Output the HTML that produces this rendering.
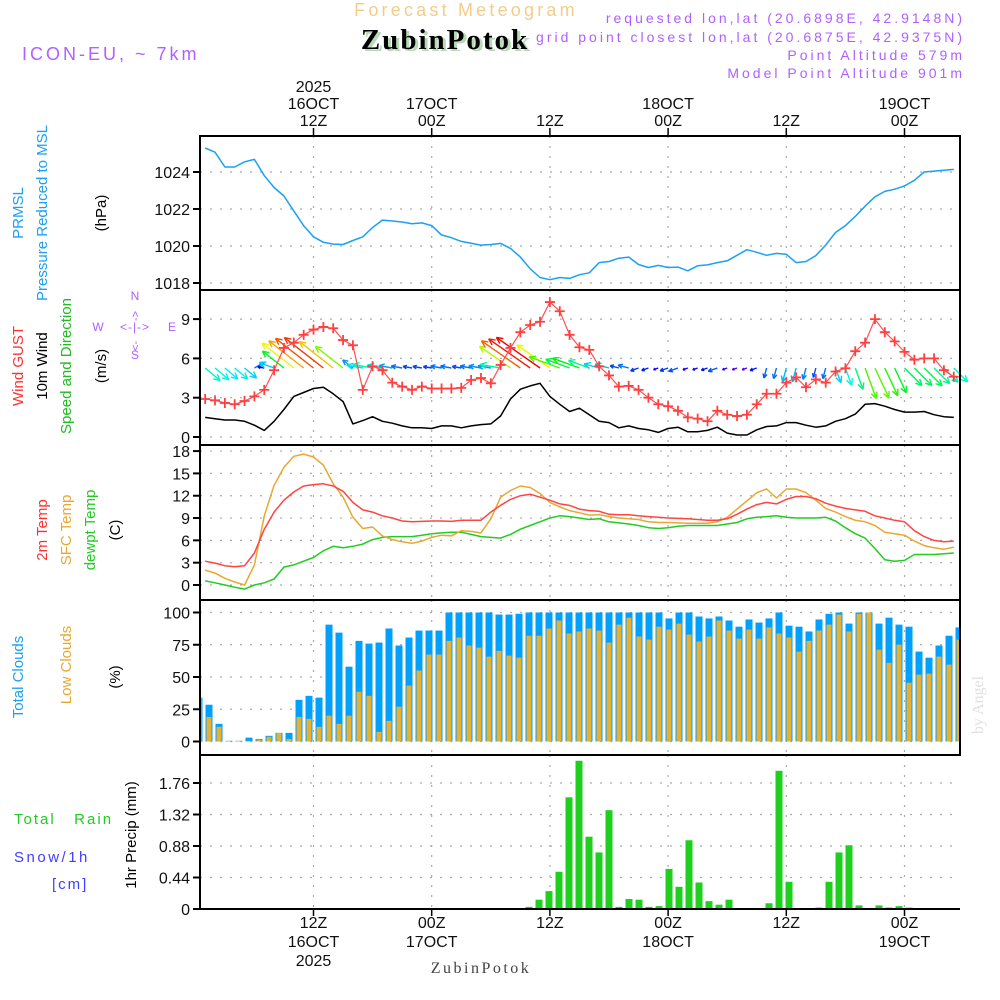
<!DOCTYPE html>
<html>
<head>
<meta charset="utf-8">
<style>
html,body{margin:0;padding:0;background:#fff;}
svg{display:block;font-family:"Liberation Sans",sans-serif;}
</style>
</head>
<body>
<svg id="chart" width="1000" height="1000" viewBox="0 0 1000 1000" xmlns="http://www.w3.org/2000/svg">
  <rect x="0" y="0" width="1000" height="1000" fill="#fff"/>
  <!-- header -->
  <text x="466" y="16" text-anchor="middle" font-size="18" fill="#f3cd8a" letter-spacing="3.2">Forecast Meteogram</text>
  <text x="448" y="51" text-anchor="middle" font-family="Liberation Serif, serif" font-weight="bold" font-size="29" fill="#b8d8b8" letter-spacing="2">ZubinPotok</text>
  <text x="445" y="49" text-anchor="middle" font-family="Liberation Serif, serif" font-weight="bold" font-size="29" fill="#000" letter-spacing="2">ZubinPotok</text>
  <text x="22" y="60" font-size="18" fill="#b060ff" letter-spacing="3">ICON-EU, ~ 7km</text>
  <g font-size="14" fill="#b060ff" text-anchor="end" letter-spacing="3">
    <text x="965" y="23">requested lon,lat (20.6898E, 42.9148N)</text>
    <text x="965" y="42">grid point closest lon,lat (20.6875E, 42.9375N)</text>
    <text x="965" y="60">Point Altitude 579m</text>
    <text x="965" y="78">Model Point Altitude 901m</text>
  </g>
  <g id="grid"></g>
  <g id="marks"></g>
  <g id="axes"></g>
  <!-- left labels -->
  <g font-size="15">
    <text transform="translate(23,213) rotate(-90)" text-anchor="middle" fill="#1ca0f0">PRMSL</text>
    <text transform="translate(47,213) rotate(-90)" text-anchor="middle" fill="#1ca0f0">Pressure Reduced to MSL</text>
    <text transform="translate(106,213) rotate(-90)" text-anchor="middle" fill="#000">(hPa)</text>
    <text transform="translate(23,366) rotate(-90)" text-anchor="middle" fill="#ff3030">Wind GUST</text>
    <text transform="translate(47,366) rotate(-90)" text-anchor="middle" fill="#000">10m Wind</text>
    <text transform="translate(71,366) rotate(-90)" text-anchor="middle" fill="#22bb22">Speed and Direction</text>
    <text transform="translate(106,366) rotate(-90)" text-anchor="middle" fill="#000">(m/s)</text>
    <text transform="translate(47,530) rotate(-90)" text-anchor="middle" fill="#ff3030">2m Temp</text>
    <text transform="translate(71,530) rotate(-90)" text-anchor="middle" fill="#e8a830">SFC Temp</text>
    <text transform="translate(95,530) rotate(-90)" text-anchor="middle" fill="#22cc22">dewpt Temp</text>
    <text transform="translate(120,530) rotate(-90)" text-anchor="middle" fill="#000">(C)</text>
    <text transform="translate(23,677) rotate(-90)" text-anchor="middle" fill="#1ca0f0">Total Clouds</text>
    <text transform="translate(71,665) rotate(-90)" text-anchor="middle" fill="#e8a830">Low Clouds</text>
    <text transform="translate(120,677) rotate(-90)" text-anchor="middle" fill="#000">(%)</text>
    <text transform="translate(136,835) rotate(-90)" text-anchor="middle" fill="#000">1hr Precip (mm)</text>
    <text x="14" y="824" fill="#22cc22" letter-spacing="2" xml:space="preserve">Total   Rain</text>
    <text x="14" y="862" fill="#4040ff" letter-spacing="2.5">Snow/1h</text>
    <text x="52" y="889" fill="#4040ff" letter-spacing="2">[cm]</text>
  </g>
  <!-- compass -->
  <g fill="#b060ff" stroke="none" font-size="12" text-anchor="middle">
    <text x="135" y="300">N</text>
    <text x="135" y="359">S</text>
    <text x="98" y="331">W</text>
    <text x="172" y="331">E</text>
    <text x="135" y="331" font-size="12" letter-spacing="1">&lt;-|-&gt;</text>
    <text transform="translate(139,316) rotate(-90)" font-size="11">-&gt;</text>
    <text transform="translate(139,346) rotate(-90)" font-size="11">&lt;-</text>
  </g>
  <text x="481" y="973" text-anchor="middle" font-family="Liberation Serif, serif" font-size="16" fill="#444" letter-spacing="2.5">ZubinPotok</text>
  <text transform="translate(983,705) rotate(-90)" text-anchor="middle" font-family="Liberation Serif, serif" font-size="16" fill="#e0e0e0">by Angel</text>
</svg>
<script>
// ---- data (hourly, t = 1..77 hours after 00Z 16 OCT 2025) ----
const pressure = [1025.3,1025.07,1024.27,1024.27,1024.55,1024.68,1023.8,1023.16,1022.7,1021.9,1021.1,1020.5,1020.2,1020.1,1020.08,1020.3,1020.5,1021.0,1021.4,1021.35,1021.3,1021.2,1021.25,1021.1,1020.6,1020.45,1020.25,1020.15,1020.05,1020.08,1020.14,1019.87,1019.4,1018.77,1018.3,1018.18,1018.3,1018.25,1018.45,1018.55,1019.1,1019.16,1019.34,1019.4,1019.0,1018.84,1018.95,1018.84,1018.86,1018.66,1018.93,1018.98,1019.1,1019.2,1019.5,1019.8,1019.66,1019.5,1019.6,1019.55,1019.1,1019.16,1019.48,1020.05,1020.73,1021.1,1021.6,1022.15,1022.66,1022.95,1023.07,1023.25,1023.55,1024.0,1024.05,1024.09,1024.14];
const gust = [2.9,2.8,2.6,2.5,2.75,3.1,3.6,5.1,6.8,7.2,7.8,8.2,8.4,8.3,7.4,7.0,3.6,5.4,5.1,4.15,3.85,3.6,3.85,3.7,3.7,3.7,3.75,4.35,4.5,4.1,5.5,6.8,8.0,8.55,8.8,10.3,9.6,7.8,6.85,6.65,5.4,4.7,3.85,3.9,3.6,3.0,2.5,2.35,2.0,1.5,1.4,1.2,2.0,1.7,1.6,1.7,2.5,3.3,3.3,4.15,4.55,3.8,4.4,4.15,5.0,5.25,6.55,7.2,9.0,8.0,7.3,6.5,5.9,6.0,6.0,5.1,4.6];
const windSpeed = [1.5,1.4,1.3,1.3,1.2,0.9,0.5,1.2,2.1,3.1,3.4,3.7,3.8,3.3,2.7,1.0,1.25,1.55,1.2,1.05,0.85,0.7,0.7,0.65,0.85,0.85,0.7,0.85,0.95,1.0,1.6,2.9,3.65,3.9,4.1,3.1,2.5,1.95,2.2,1.7,1.2,1.1,0.7,0.85,0.65,0.55,0.35,0.65,0.75,0.4,0.4,0.5,0.75,0.3,0.15,0.15,0.55,0.8,0.85,1.1,1.1,0.9,0.75,0.85,1.2,1.4,1.75,2.5,2.55,2.35,2.1,1.9,1.9,1.95,1.7,1.55,1.5];
const windDir = [310,310,310,310,310,240,100,110,128,128,128,128,128,128,128,128,100,100,100,100,100,100,100,100,100,100,100,100,100,100,100,125,125,125,125,125,110,110,110,110,105,105,105,105,70,70,70,70,70,70,70,70,70,70,70,70,70,15,15,15,15,15,15,15,340,340,340,340,335,335,335,315,315,315,315,315,315];
const temp2m = [3.2,2.95,2.6,2.45,2.6,4.3,7.5,9.8,11.4,12.5,13.3,13.5,13.6,13.3,12.6,11.1,10.1,9.8,9.3,9.0,8.6,8.5,8.55,8.6,8.6,8.55,8.7,8.7,8.7,9.8,10.7,11.5,12.0,12.2,11.8,11.4,10.9,10.7,10.2,10.0,9.9,9.5,9.45,9.45,9.3,9.2,9.1,9.0,8.95,8.9,8.8,8.7,8.7,8.9,9.5,10.2,10.8,11.1,10.9,11.5,11.9,11.9,11.6,11.0,10.6,10.3,10.1,9.9,9.3,9.0,8.7,8.5,7.3,6.5,6.0,5.8,5.9];
const sfcTemp = [2.0,1.6,0.9,0.4,0,2.7,9.3,13.4,15.8,17.3,17.6,17.2,16.1,13.6,11.8,9.1,7.6,7.8,6.6,6.1,5.8,5.6,5.9,6.4,6.7,6.6,7.3,7.2,7.0,8.9,11.8,12.7,13.3,13.1,12.3,11.1,10.5,10.0,9.7,9.4,9.45,9.2,9.0,8.9,8.8,8.5,8.4,8.4,8.35,8.3,8.3,8.3,8.5,9.1,10.2,11.3,12.4,12.9,11.7,12.9,12.9,12.4,11.4,10.3,9.8,9.2,8.7,8.5,8.0,7.1,6.9,6.7,5.9,5.3,5.0,4.8,5.1];
const dewpt = [0.55,0.3,0,-0.3,-0.55,0,0.3,0.8,2.4,2.7,3.2,3.7,4.6,5.2,5.0,5.2,5.5,6.1,6.4,6.5,6.5,6.5,6.7,6.9,7.0,7.1,7.1,6.8,6.5,6.4,6.3,6.8,7.5,8.0,8.5,9.0,9.3,9.2,9.0,8.8,8.9,8.5,8.35,8.2,8.0,7.7,7.6,7.7,7.9,8.0,8.0,8.0,8.0,8.2,8.4,8.9,9.1,9.2,9.3,9.1,9.0,9.0,9.0,9.1,8.6,7.7,6.9,6.3,4.9,3.4,3.2,3.3,4.1,4.1,4.1,4.2,4.3];
// bar series (77 hourly bars)
const totalClouds = [34,28.5,13.7,0.5,0.5,3,2,4.4,6.7,6.7,32.3,35.4,34,90.6,84.4,58,78,75.9,76.7,87.6,74.4,80.6,86,86,86,100,100,100,100,100,98.4,98.4,99,100,100,100,100,100,100,100,100,100,100,100,100,100,100,95.4,100,100,96.9,95.4,96.9,93.8,89,94.6,92.2,95.4,100,89.8,89,85.3,94.6,99,100,91.4,100,100,91.4,96,90.6,89,69.7,65,74.4,82,88.4];
const lowClouds = [34,19,11.4,0.5,0.5,0.5,1.5,3.7,6.7,2,19,17.6,11.4,20,13.7,20,38.6,35.4,7.5,16,27,43.3,55,67.4,67.4,78,80.6,74.4,72.8,65.8,70.3,66.6,65,82,82,87.6,93.8,83.7,85.3,87.6,86,76.7,90.6,96,81.4,79,89,86.8,91.4,82.9,77.5,81.4,93.8,86,79.8,86.8,79.8,88.4,83.7,80.6,69.7,78,86,90.6,98.4,85.3,99,100,71.2,61,75.1,45.6,51.8,52.6,65.8,59.6,79];
const precip = [0,0,0,0,0,0,0,0,0,0,0,0,0,0,0,0,0,0,0,0,0,0,0,0,0,0,0,0,0,0,0,0,0,0.03,0.13,0.25,0.52,1.56,2.07,1.01,0.79,1.38,0.03,0.14,0.13,0.03,0.04,0.56,0.31,0.96,0.37,0.11,0.06,0.13,0,0,0,0.08,1.93,0.38,0,0,0.02,0.38,0.79,0.89,0.05,0,0.05,0.02,0.04,0.02,0,0,0,0,0];
// tick arrays
const pTicks = [1018,1020,1022,1024];
const wTicks = [0,3,6,9];
const tTicks = [0,3,6,9,12,15,18];
const cTicks = [0,25,50,75,100];
const rTicks = ["0","0.44","0.88","1.32","1.76"];
const timeTicks = [12,24,36,48,60,72];
const topLabels = [["2025","16OCT","12Z"],["","17OCT","00Z"],["","","12Z"],["","18OCT","00Z"],["","","12Z"],["","19OCT","00Z"]];
const bottomLabels = [["12Z","16OCT","2025"],["00Z","17OCT",""],["12Z","",""],["00Z","18OCT",""],["12Z","",""],["00Z","19OCT",""]];

// ---- axis functions ----
const X0 = 200, X1 = 960;
const xT = t => 313.5 + (t - 12) * 9.85;
const xBar = k => 199 + 10 * k;
const yP = v => 172 + (1024 - v) * 18.5;
const yW = v => 437 - v * 13.1;
const yT = v => 585 - v * 7.44;
const yC = v => 741.5 - v * 1.29;
const yR = v => 909 - v * 71.6;
const panels = [{top:136,bot:290},{top:290,bot:445},{top:445,bot:600},{top:600,bot:755},{top:755,bot:910}];

const NS = "http://www.w3.org/2000/svg";
function mk(tag, attrs, parent){ const e=document.createElementNS(NS,tag); for(const k in attrs) e.setAttribute(k,attrs[k]); parent.appendChild(e); return e; }
const grid = document.getElementById('grid');
const marks = document.getElementById('marks');
const axes = document.getElementById('axes');

// grids
const hgrid = [[pTicks,yP],[wTicks,yW],[tTicks,yT],[cTicks,yC],[rTicks.map(Number),yR]];
hgrid.forEach(([ticks,f],pi)=>{
  ticks.forEach(v=>{
    const y=f(v);
    const l=mk('line',{x1:X0,x2:X1,y1:y,y2:y,stroke:'#aaa','stroke-width':1.2,'stroke-dasharray':'2,8'},grid);
    
    
    const tk=mk('line',{x1:X0-7,x2:X0,y1:y,y2:y,stroke:'#000','stroke-width':2},axes);
    
    
    const tx=mk('text',{x:X0-10,y:y+6,'text-anchor':'end','font-size':16,fill:'#111'},axes);
    
    
    tx.textContent = pi===4 ? rTicks[ticks.indexOf(v)] : String(v);
  });
});
panels.forEach(p=>{
  timeTicks.forEach(t=>{
    const l=mk('line',{x1:xT(t),x2:xT(t),y1:p.top,y2:p.bot,stroke:'#aaa','stroke-width':1.2,'stroke-dasharray':'2,8'},grid);
    
    
  });
});
// panel frames
panels.forEach((p,i)=>{
  if(i<4){
    const r=mk('rect',{x:X0,y:p.top,width:X1-X0,height:p.bot-p.top,fill:'none',stroke:'#000','stroke-width':2},axes);
    
    
  } else {
    const l1=mk('line',{x1:X0,x2:X0,y1:p.top,y2:909,stroke:'#000','stroke-width':2},axes);
    
    
    const l2=mk('line',{x1:X0,x2:X1,y1:909,y2:909,stroke:'#000','stroke-width':2},axes);
    
    
    const l3=mk('line',{x1:X0,x2:X1,y1:p.top,y2:p.top,stroke:'#000','stroke-width':2},axes);
    
    
  }
});
// time ticks + labels
timeTicks.forEach((t,i)=>{
  const x=xT(t);
  const a=mk('line',{x1:x,x2:x,y1:128,y2:136,stroke:'#000','stroke-width':1.5},axes);
  
  
  const b=mk('line',{x1:x,x2:x,y1:909,y2:916,stroke:'#000','stroke-width':1.5},axes);
  
  
  topLabels[i].forEach((s,j)=>{ if(!s) return;
    const tx=mk('text',{x:x,y:92+j*17,'text-anchor':'middle','font-size':16,fill:'#111'},axes);
    
    
    tx.textContent=s; });
  bottomLabels[i].forEach((s,j)=>{ if(!s) return;
    const tx=mk('text',{x:x,y:928+j*19,'text-anchor':'middle','font-size':16,fill:'#111'},axes);
    
    
    tx.textContent=s; });
});

function line(arr, fy, color, name, w){
  const pts=arr.map((v,i)=>xT(i+1).toFixed(1)+','+fy(v).toFixed(1)).join(' ');
  const pl=mk('polyline',{points:pts,fill:'none',stroke:color,'stroke-width':w||1.5,'stroke-linejoin':'round'},marks);
  
  
}
// pressure
line(pressure,yP,'#1aa0f5','pressure-line');
// wind arrows
function hsl(h){return 'hsl('+h+',100%,48%)';}
windSpeed.forEach((s,i)=>{
  const x=xT(i+1), y=368;
  const tow=(windDir[i]+180)*Math.PI/180;
  const L=Math.max(s*13,5);
  const dx=Math.sin(tow), dy=-Math.cos(tow);
  const hx=x+dx*L, hy=y+dy*L;
  const hue=Math.max(0,270-s/4*270);
  const g=mk('g',{stroke:hsl(hue),'stroke-width':1.4,fill:'none'},marks);
  
  
  mk('line',{x1:x,y1:y,x2:hx,y2:hy},g);
  const hl=Math.min(7,L*0.45), a=0.45;
  [a,-a].forEach(d=>{
    const ang=Math.atan2(dy,dx)+Math.PI+d;
    mk('line',{x1:hx,y1:hy,x2:hx+Math.cos(ang)*hl,y2:hy+Math.sin(ang)*hl},g);
  });
});
// wind speed + gust
line(windSpeed,yW,'#000','wind-speed-line');
line(gust,yW,'#ff5050','wind-gust-line',1.2);
gust.forEach((v,i)=>{
  const x=xT(i+1), y=yW(v);
  const p=mk('path',{d:`M${x-5},${y}H${x+5}M${x},${y-5}V${y+5}`,stroke:'#ff4040','stroke-width':1.8},marks);
  
  
});
// temps
line(dewpt,yT,'#22cc22','dewpoint-line');
line(sfcTemp,yT,'#e8a830','sfc-temp-line');
line(temp2m,yT,'#ff4444','temp-2m-line');
// clouds
totalClouds.forEach((v,k)=>{
  const x=xBar(k);
  const x0=Math.max(x-3.5,X0+1), x1=Math.min(x+3.5,X1-1);
  const r=mk('rect',{x:x0,y:yC(v),width:x1-x0,height:yC(0)-yC(v),fill:'#00a0ff'},marks);
  
  
});
lowClouds.forEach((v,k)=>{
  const x=xBar(k);
  const x0=Math.max(x-2.5,X0+1), x1=Math.min(x+2.5,X1-1);
  const r=mk('rect',{x:x0,y:yC(v),width:x1-x0,height:yC(0)-yC(v),fill:'#e8b030'},marks);
  
  
});
// precip
precip.forEach((v,k)=>{
  if(v<=0) return;
  const x=xBar(k);
  const r=mk('rect',{x:x-3.5,y:yR(v),width:7,height:yR(0)-yR(v),fill:'#1ecf1e'},marks);
  
  
});
</script>
</body>
</html>
